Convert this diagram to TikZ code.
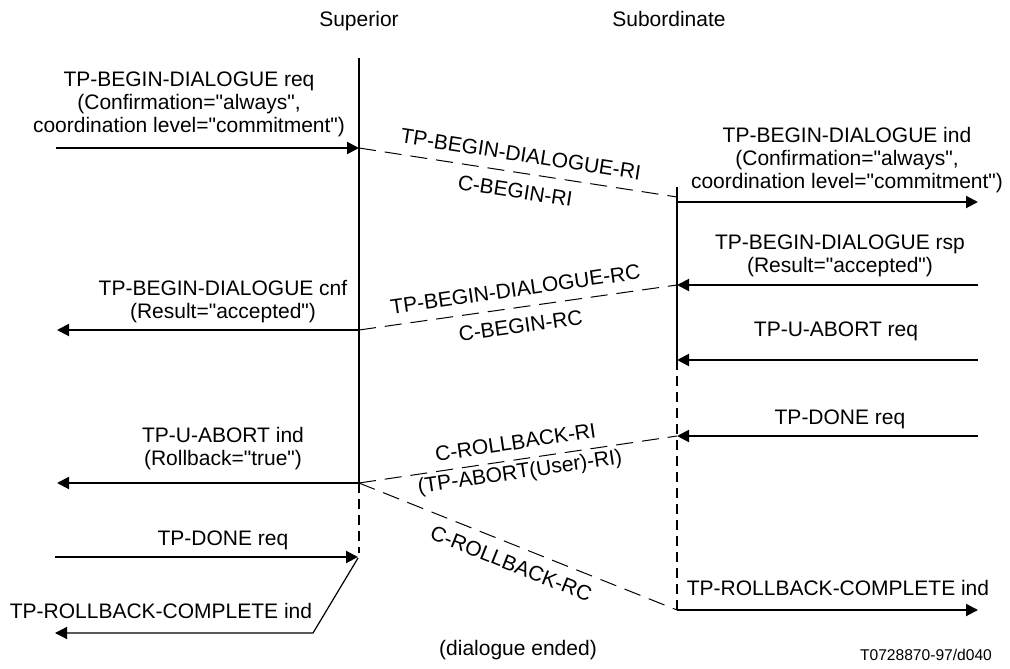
\documentclass[tikz,border=0pt]{standalone}
\usepackage{fontspec}
\setmainfont{Liberation Sans}
\font\qf="Liberation Sans" at 21pt
\newcommand\dq{{\qf"}}
\usetikzlibrary{arrows.meta}
\begin{document}
\begin{tikzpicture}[x=1pt,y=-1pt,
  txt/.style={font=\fontsize{21}{23}\selectfont, inner sep=0pt, align=center},
  blk/.style={txt, anchor=south},
  one/.style={txt, anchor=base},
  life/.style={line width=2pt},
  lifedash/.style={line width=2pt, dash pattern=on 10pt off 6pt},
  msg/.style={line width=2pt, -{Triangle[length=12pt,width=12pt]}},
  thinmsg/.style={line width=1.2pt, -{Triangle[length=12pt,width=12pt]}},
  pdu/.style={line width=1pt, dash pattern=on 17pt off 9pt},
  pa/.style={txt, sloped, midway, anchor=south, outer ysep=11pt},
  pb/.style={txt, sloped, midway, anchor=north, outer ysep=11pt}]
\useasboundingbox (0,0) rectangle (1010,669);
% lifelines
\coordinate (supTop) at (359,58);
\coordinate (supMid) at (359,483);
\coordinate (supEnd) at (359,553);
\coordinate (subTop) at (677,187);
\coordinate (subMid) at (677,360);
\coordinate (subEnd) at (677,610);
\draw[life] (supTop) -- (supMid);
\draw[lifedash] (supMid) -- (supEnd);
\draw[life] (subTop) -- (subMid);
\draw[lifedash] (subMid) -- (subEnd);
\node[one] (lsup) at (359,27) {Superior};
\node[one] (lsub) at (669,27) {Subordinate};
% message end points
\coordinate (reqL) at (56,148);  \coordinate (reqS) at (359,148);
\coordinate (riS) at (677,197);
\coordinate (indS) at (677,202); \coordinate (indR) at (978,202);
\coordinate (rspR) at (978,285); \coordinate (rspS) at (677,285);
\coordinate (cnfS) at (359,330); \coordinate (cnfL) at (57,330);
\coordinate (uarR) at (978,360); \coordinate (uarS) at (677,360);
\coordinate (dnR) at (978,436);  \coordinate (dnS) at (677,436);
\coordinate (uaiS) at (359,483); \coordinate (uaiL) at (57,483);
\coordinate (rbS) at (677,610);  \coordinate (rbR) at (978,610);
\coordinate (dlL) at (55,557);   \coordinate (dlS) at (358,557);
\coordinate (rcS) at (358,558);  \coordinate (rcK) at (313,633); \coordinate (rcL) at (55,633);
% service primitives
\draw[msg] (reqL) -- (reqS);
\node[blk] (treq) at (189,137.4) {TP-BEGIN-DIALOGUE req\\(Confirmation=\dq always\dq,\\coordination level=\dq commitment\dq)};
\draw[msg] (indS) -- (indR);
\node[blk] (tind) at (847,193.4) {TP-BEGIN-DIALOGUE ind\\(Confirmation=\dq always\dq,\\coordination level=\dq commitment\dq)};
\draw[msg] (rspR) -- (rspS);
\node[blk] (trsp) at (840,277.4) {TP-BEGIN-DIALOGUE rsp\\(Result=\dq accepted\dq)};
\draw[msg] (cnfS) -- (cnfL);
\node[blk] (tcnf) at (223,323.4) {TP-BEGIN-DIALOGUE cnf\\(Result=\dq accepted\dq)};
\draw[msg] (uarR) -- (uarS);
\node[one] (tuar) at (836,336) {TP-U-ABORT req};
\draw[msg] (dnR) -- (dnS);
\node[one] (tdnr) at (840,424) {TP-DONE req};
\draw[msg] (uaiS) -- (uaiL);
\node[blk] (tuai) at (223,470.4) {TP-U-ABORT ind\\(Rollback=\dq true\dq)};
\draw[msg] (dlL) -- (dlS);
\node[one] (tdnl) at (223,545) {TP-DONE req};
\draw[thinmsg] (rcS) -- (rcK) -- (rcL);
\node[one] (trcl) at (161,618) {TP-ROLLBACK-COMPLETE ind};
\draw[msg] (rbS) -- (rbR);
\node[one] (trcr) at (838,595) {TP-ROLLBACK-COMPLETE ind};
% protocol data units
\draw[pdu] (reqS) -- (riS)
  node[pa] (p1a) {TP-BEGIN-DIALOGUE-RI}
  node[pb] (p1b) {C-BEGIN-RI};
\draw[pdu] (cnfS) -- (rspS)
  node[pa] (p2a) {TP-BEGIN-DIALOGUE-RC}
  node[pb] (p2b) {C-BEGIN-RC};
\draw[pdu] (uaiS) -- (dnS)
  node[pa, outer ysep=10pt] (p3a) {C-ROLLBACK-RI}
  node[pb, outer ysep=4pt] (p3b) {(TP-ABORT(User)-RI)};
\draw[pdu] (uaiS) -- (rbS)
  node[pb] (p4b) {C-ROLLBACK-RC};
\node[one] (ended) at (518,655) {(dialogue ended)};
\node[txt, anchor=base, font=\fontsize{15.6}{18}\selectfont] (code) at (926,660) {T0728870-97/d040};
\end{tikzpicture}
\end{document}
